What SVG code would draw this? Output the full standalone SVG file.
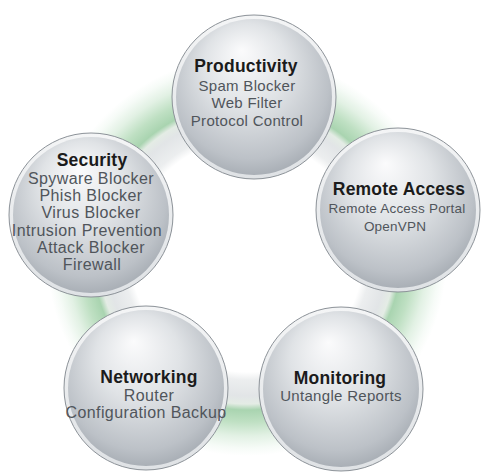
<svg xmlns="http://www.w3.org/2000/svg" width="482" height="472" viewBox="0 0 482 472">
<style>
.t{font-family:"Liberation Sans",Arial,sans-serif;text-anchor:middle}
.h{font-size:17.5px;font-weight:bold;fill:#1b1b1b;letter-spacing:0.2px}
.i{font-size:16px;fill:#50555b;letter-spacing:0.4px}
.p{font-size:15px;letter-spacing:0.3px}
.s{font-size:13.5px;letter-spacing:0.2px}
.rim{fill:url(#rimg);stroke:#8c9298;stroke-width:1}
.body{fill:url(#sph)}
</style>
<defs>
<radialGradient id="ringg" cx="247" cy="256" r="200" gradientUnits="userSpaceOnUse">
<stop offset="0" stop-color="#ffffff"/>
<stop offset="0.58" stop-color="#ffffff"/>
<stop offset="0.62" stop-color="#eceeef"/>
<stop offset="0.7" stop-color="#e2e5e7"/>
<stop offset="0.74" stop-color="#e4ece5"/>
<stop offset="0.77" stop-color="#a9d4b0"/>
<stop offset="0.83" stop-color="#bfe0c3"/>
<stop offset="0.9" stop-color="#e2f1e4"/>
<stop offset="0.96" stop-color="#f6fbf7"/>
<stop offset="1" stop-color="#ffffff"/>
</radialGradient>
<radialGradient id="sph" cx="0.48" cy="0.42" r="0.6" fx="0.42" fy="0.2">
<stop offset="0" stop-color="#fbfbfc"/>
<stop offset="0.45" stop-color="#e0e3e6"/>
<stop offset="0.85" stop-color="#bcc1c7"/>
<stop offset="1" stop-color="#a6acb3"/>
</radialGradient>
<linearGradient id="rimg" x1="0" y1="0" x2="0" y2="1">
<stop offset="0" stop-color="#f4f5f6"/>
<stop offset="1" stop-color="#dfe2e5"/>
</linearGradient>
</defs>
<rect width="482" height="472" fill="#ffffff"/>
<g id="connectors">
<circle cx="247" cy="256" r="200" fill="url(#ringg)"/>
</g>
<g id="productivity">
<circle class="rim" cx="254" cy="97" r="82"/>
<circle class="body" cx="254" cy="97" r="78"/>
<text class="t h" x="246" y="72">Productivity</text>
<text class="t i p" x="247" y="91">Spam Blocker</text>
<text class="t i p" x="247" y="108">Web Filter</text>
<text class="t i p" x="247" y="126">Protocol Control</text>
</g>
<g id="security">
<circle class="rim" cx="91" cy="215" r="82"/>
<circle class="body" cx="91" cy="215" r="78"/>
<text class="t h" x="92" y="166">Security</text>
<text class="t i" x="91" y="184">Spyware Blocker</text>
<text class="t i" x="91" y="201">Phish Blocker</text>
<text class="t i" x="91" y="218">Virus Blocker</text>
<text class="t i" x="87" y="236">Intrusion Prevention</text>
<text class="t i" x="91" y="253">Attack Blocker</text>
<text class="t i" x="92" y="270">Firewall</text>
</g>
<g id="remote-access">
<circle class="rim" cx="398" cy="210" r="82"/>
<circle class="body" cx="398" cy="210" r="78"/>
<text class="t h" x="399" y="195">Remote Access</text>
<text class="t i s" x="397" y="213">Remote Access Portal</text>
<text class="t i s" x="395" y="231">OpenVPN</text>
</g>
<g id="networking">
<circle class="rim" cx="146" cy="388" r="82"/>
<circle class="body" cx="146" cy="388" r="78"/>
<text class="t h" x="149" y="383">Networking</text>
<text class="t i" x="149" y="401">Router</text>
<text class="t i" x="146" y="418">Configuration Backup</text>
</g>
<g id="monitoring">
<circle class="rim" cx="341" cy="389" r="82"/>
<circle class="body" cx="341" cy="389" r="78"/>
<text class="t h" x="340" y="384">Monitoring</text>
<text class="t i p" x="341" y="401">Untangle Reports</text>
</g>
</svg>
